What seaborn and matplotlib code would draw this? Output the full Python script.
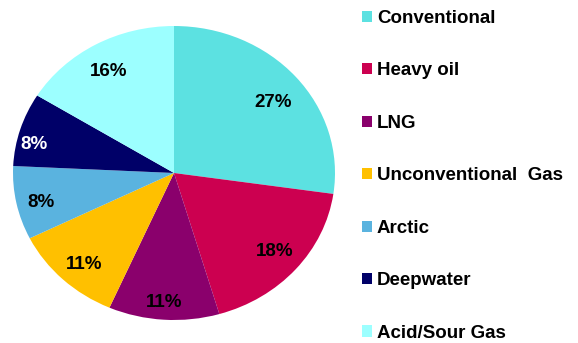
import matplotlib
matplotlib.use("Agg")
import numpy as np
import matplotlib.pyplot as plt
import seaborn as sns
from matplotlib.patches import Patch

sns.set_theme(style="white")
plt.rcParams['font.family'] = ['Liberation Sans', 'DejaVu Sans']
plt.rcParams['text.color'] = 'black'

categories = ["Conventional", "Heavy oil", "LNG", "Unconventional  Gas",
              "Arctic", "Deepwater", "Acid/Sour Gas"]
shares = [27, 18, 11, 11, 8, 8, 16]
colors = ["#5CE1E1", "#CC0050", "#8A006C", "#FFC000",
          "#5AB3DF", "#000068", "#9CFFFF"]
label_colors = ["black", "black", "black", "black", "black", "white", "black"]
# placement of each percentage label: radius fraction and angular nudge (deg)
label_radius = [0.78, 0.82, 0.885, 0.84, 0.85, 0.89, 0.80]
label_nudge = [-3.0, 0.5, -0.5, 1.8, 1.9, 4.7, 1.4]

W, H = 578, 343
fig = plt.figure(figsize=(W / 100, H / 100), dpi=100)
# slightly wide box: the pie is drawn as a gentle ellipse
ax = fig.add_axes([13 / W, (H - 320) / H, 322 / W, 294 / H])

wedges, texts, autotexts = ax.pie(
    shares, colors=colors, startangle=90, counterclock=False,
    autopct=lambda p: f"{p * sum(shares) / 100:.0f}%", pctdistance=0.8,
    wedgeprops=dict(linewidth=0),
    textprops=dict(fontsize=13.5, fontweight="bold"),
)
for w, t, c, d, n in zip(wedges, autotexts, label_colors, label_radius, label_nudge):
    mid = np.deg2rad((w.theta1 + w.theta2) / 2 + n)
    t.set_position((d * np.cos(mid), d * np.sin(mid)))
    t.set_color(c)
ax.set_xlim(-1, 1)
ax.set_ylim(-1, 1)
ax.set_aspect("auto")

handles = [Patch(facecolor=c, edgecolor="none") for c in colors]
leg = fig.legend(handles, categories, loc="upper left",
                 bbox_to_anchor=(362 / W, 1.0 - 10 / H), frameon=False,
                 prop=dict(size=13.5, weight="bold"), labelcolor="black",
                 handlelength=0.53, handleheight=0.53, handletextpad=0.27,
                 labelspacing=1.89, borderaxespad=0, borderpad=0)

fig.savefig("out.png", dpi=100)
